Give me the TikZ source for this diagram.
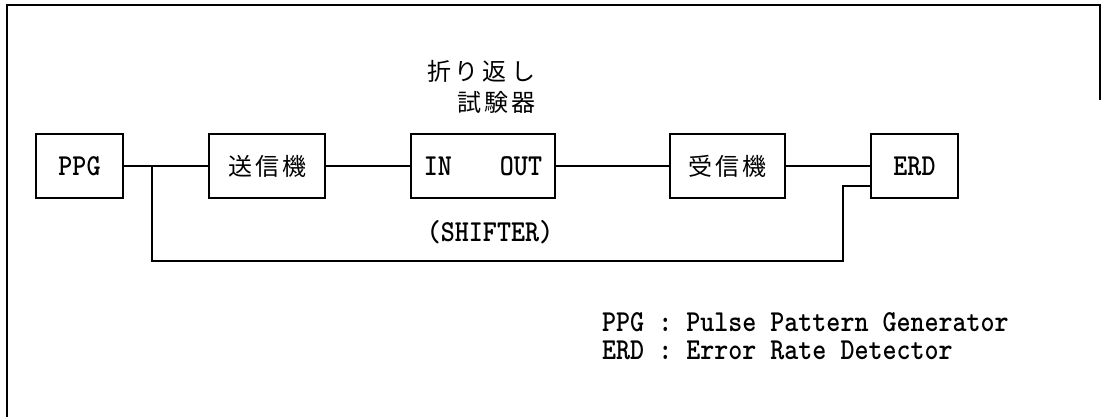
\documentclass[tikz,border=0pt]{standalone}
\usepackage{fontspec}
\usepackage{graphicx}
\newfontfamily\jpfont{Noto Sans CJK JP}
\newcommand\mono[1]{{\ttfamily\bfseries\fontsize{26.7}{30}\selectfont\scalebox{1}[1.14]{#1}}}
\newcommand\jp[1]{{\jpfont\fontsize{24}{28}\selectfont #1}}
\begin{document}
\begin{tikzpicture}[x=1pt,y=-1pt,
  box/.style={draw, line width=1.6pt, inner sep=0pt},
  wire/.style={line width=1.4pt},
  frame/.style={line width=2pt},
  legend/.style={anchor=west, inner sep=0pt, text height=18pt, text depth=3pt}]
\useasboundingbox (0,0) rectangle (1101,417);
\fill[white] (0,0) rectangle (1101,417);
\draw[frame] (7,417) -- (7,5) -- (1100,5) -- (1100,100);

\node[box, minimum width=87pt, minimum height=64pt] (ppg) at (79.5,166) {\mono{PPG}};
\node[box, minimum width=116pt, minimum height=64pt] (tx) at (267,166) {\jp{送\hspace{3pt}信\hspace{3pt}機}};
\node[box, minimum width=144pt, minimum height=64pt] (sh) at (483,166) {\mono{IN\hspace{48pt}OUT}};
\node[box, minimum width=115pt, minimum height=64pt] (rx) at (727.5,166) {\jp{受\hspace{3pt}信\hspace{3pt}機}};
\node[box, minimum width=87pt, minimum height=64pt] (erd) at (914.5,166) {\mono{ERD}};

\node (t1) at (481,71) {\jp{折\hspace{4pt}り\hspace{4pt}返\hspace{4pt}し}};
\node (t2) at (496,102) {\jp{試\hspace{3pt}験\hspace{3pt}器}};
\node (shl) at (490,232) {\mono{(SHIFTER)}};

\node[legend] (lg1) at (602,324) {\mono{PPG : Pulse Pattern Generator}};
\node[legend] (lg2) at (602,352) {\mono{ERD : Error Rate Detector}};

\coordinate (tap) at (152,166);
\coordinate (ret) at (843,261);
\coordinate (erdin) at ([yshift=-20pt]erd.west);

\draw[wire] (ppg) -- (tx);
\draw[wire] (tx) -- (sh);
\draw[wire] (sh) -- (rx);
\draw[wire] (rx) -- (erd);
\draw[wire] (tap) |- (ret) |- (erdin);
\end{tikzpicture}
\end{document}
